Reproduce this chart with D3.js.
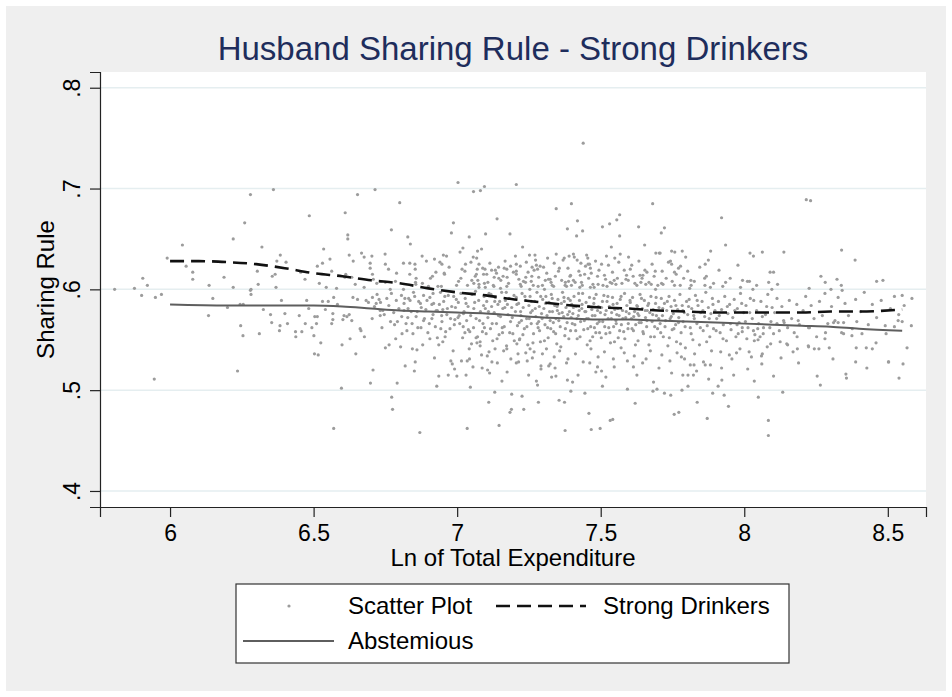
<!DOCTYPE html>
<html lang="en">
<head>
<meta charset="utf-8">
<title>Husband Sharing Rule - Strong Drinkers</title>
<script src="https://d3js.org/d3.v7.min.js"></script>
<style>
  body { margin: 0; background: #fff; }
  text { font-family: "Liberation Sans", Arial, sans-serif; }
</style>
</head>
<body>
<script>
// ticks
var xTicks = [6, 6.5, 7, 7.5, 8, 8.5];
var yTicks = [0.4, 0.5, 0.6, 0.7, 0.8];

// fitted lines
var strongX = [6.0, 6.1, 6.2, 6.3, 6.4, 6.5, 6.6, 6.7, 6.8, 6.9, 7.0, 7.1, 7.2, 7.3, 7.4, 7.5, 7.6, 7.7, 7.8, 7.9, 8.0, 8.1, 8.2, 8.3, 8.4, 8.55];
var strongY = [0.628, 0.628, 0.627, 0.625, 0.621, 0.616, 0.613, 0.609, 0.606, 0.601, 0.597, 0.594, 0.590, 0.587, 0.584, 0.582, 0.581, 0.579, 0.578, 0.577, 0.577, 0.577, 0.577, 0.578, 0.578, 0.580];
var abstX = [6.0, 6.2, 6.4, 6.5, 6.6, 6.7, 6.8, 6.9, 7.0, 7.1, 7.2, 7.3, 7.4, 7.5, 7.6, 7.7, 7.8, 7.9, 8.0, 8.1, 8.2, 8.3, 8.4, 8.55];
var abstY = [0.585, 0.584, 0.584, 0.584, 0.583, 0.581, 0.579, 0.578, 0.577, 0.576, 0.574, 0.572, 0.571, 0.570, 0.570, 0.569, 0.568, 0.567, 0.566, 0.565, 0.564, 0.563, 0.561, 0.559];

// scatter points [ln expenditure, sharing rule]
var scatterPts = [
 [5.807,.600],[5.876,.601],[5.905,.611],[5.921,.604],[5.901,.594],[5.949,.592],[5.970,.595],[5.945,.511],
 [5.990,.631],[6.043,.644],[6.056,.623],[6.079,.617],[6.079,.610],[6.188,.612],[6.136,.604],[6.220,.602],[6.220,.650],
 [6.134,.574],[6.149,.591],[6.200,.582],[6.244,.585],[6.255,.585],[6.246,.564],[6.254,.554],[6.235,.519],
 [6.280,.694],[6.360,.699],[6.260,.666],[6.485,.673],[6.610,.676],[6.653,.694],[6.714,.699],[6.619,.654],[6.619,.650],
 [6.320,.642],[6.535,.640],[6.384,.634],[6.372,.628],[6.404,.627],[6.624,.634],[6.667,.636],[6.676,.632],[6.703,.633],
 [6.557,.630],[6.531,.626],[6.513,.623],[6.638,.628],[6.697,.626],[6.697,.621],[6.304,.618],[6.366,.615],[6.356,.613],
 [6.455,.617],[6.563,.618],[6.612,.615],[6.609,.612],[6.470,.610],[6.520,.606],[6.633,.612],[6.705,.615],[6.708,.610],
 [6.720,.606],[6.307,.605],[6.369,.602],[6.282,.600],[6.544,.602],[6.580,.601],[6.645,.605],[6.676,.602],
 [6.280,.599],[6.282,.595],[6.311,.556],[6.325,.580],[6.350,.575],[6.354,.567],[6.381,.559],[6.383,.564],[6.388,.589],
 [6.400,.576],[6.409,.566],[6.437,.558],[6.438,.553],[6.450,.574],[6.459,.558],[6.471,.566],[6.476,.589],[6.483,.581],
 [6.494,.562],[6.501,.554],[6.503,.536],[6.516,.535],[6.504,.573],[6.513,.573],[6.510,.566],[6.525,.547],[6.531,.588],
 [6.541,.580],[6.551,.588],[6.567,.576],[6.567,.570],[6.563,.566],[6.570,.592],[6.583,.585],[6.597,.502],[6.599,.545],
 [6.602,.570],[6.606,.574],[6.616,.573],[6.624,.575],[6.627,.551],[6.633,.569],[6.637,.592],[6.647,.536],[6.653,.590],
 [6.662,.561],[6.665,.559],[6.677,.553],[6.683,.589],[6.691,.587],[6.704,.571],[6.698,.507],[6.707,.520],[6.718,.586],
 [6.728,.590],[6.732,.579],[6.732,.574],[6.746,.575],[6.750,.542],[6.763,.545],[6.768,.568],[6.772,.493],[6.775,.481],
 [6.782,.565],[6.791,.507],[6.786,.551],[6.803,.543],[6.808,.556],[6.815,.579],[6.819,.524],[6.825,.559],[6.828,.572],
 [6.836,.589],[6.844,.541],[6.851,.519],[6.854,.528],[6.860,.540],[6.863,.562],[6.875,.582],[6.883,.569],[6.898,.557],
 [6.905,.551],[6.912,.585],[6.916,.575],[6.929,.504],[6.931,.552],[6.936,.514],[6.943,.561],[6.950,.580],[6.960,.558],
 [6.969,.515],[6.983,.526],[6.990,.565],[6.991,.521],[6.999,.514],[7.003,.572],[7.022,.576],[7.031,.515],[7.035,.529],
 [7.039,.560],[7.046,.503],[7.050,.546],[7.066,.552],[7.080,.548],[7.095,.562],[7.106,.520],[7.111,.538],[7.113,.517],
 [7.121,.528],[7.131,.498],[7.110,.488],[7.156,.509],[7.158,.557],[7.173,.541],[7.189,.481],[7.184,.478],[7.190,.496],
 [7.206,.527],[7.208,.546],[7.217,.550],[7.226,.494],[7.232,.481],[7.239,.537],[7.254,.541],[7.262,.532],[7.276,.509],
 [7.280,.505],[7.283,.488],[7.292,.521],[7.319,.524],
 [7.003,.706],[7.057,.697],[7.081,.698],[7.095,.702],[7.206,.704],[6.800,.686],[6.771,.659],[6.987,.666],[6.980,.656],
 [7.139,.670],[7.099,.655],[7.184,.655],[7.042,.652],[6.828,.652],[6.837,.645],[7.020,.641],[7.085,.640],[7.071,.638],
 [6.749,.635],[6.878,.633],[6.952,.634],[6.963,.633],[7.010,.637],[7.056,.632],[7.068,.631],[6.921,.630],[6.893,.628],
 [6.813,.626],[6.835,.626],[6.853,.625],[6.940,.627],[6.947,.625],[7.029,.625],[7.076,.625],[6.750,.625],[6.972,.622],
 [7.017,.620],[7.070,.620],[6.761,.620],[6.854,.620],[6.926,.617],[7.097,.620],[7.144,.622],[7.164,.621],[7.173,.620],
 [7.186,.623],[7.206,.625],[6.955,.616],[6.956,.615],[7.067,.615],[7.092,.615],[7.103,.615],[7.120,.619],[7.137,.616],
 [7.206,.618],[7.206,.615],[6.789,.616],[6.835,.615],[6.857,.611],[6.914,.613],[6.907,.611],[7.005,.608],[7.051,.609],
 [7.058,.606],[7.076,.605],[7.095,.606],[7.129,.612],[7.145,.611],[7.160,.613],[7.174,.612],[6.855,.607],[6.856,.605],
 [6.785,.608],[6.750,.607],[6.998,.604],[7.076,.602],[7.098,.602],[7.128,.603],[7.151,.601],[7.173,.603],[6.900,.603],
 [6.933,.603],[6.945,.603],[6.879,.606],[6.767,.600],[6.813,.600],
 [7.439,.745],[7.398,.685],[7.345,.680],[7.681,.685],[7.419,.668],[7.384,.660],[7.437,.658],[7.416,.653],[7.566,.674],
 [7.556,.669],[7.531,.665],[7.506,.662],[7.566,.653],[7.632,.662],[7.653,.644],[7.537,.642],[7.228,.642],[7.252,.634],
 [7.271,.634],[7.345,.635],[7.373,.631],[7.390,.633],[7.405,.635],[7.408,.632],[7.451,.634],[7.455,.631],[7.520,.633],
 [7.549,.631],[7.568,.635],[7.597,.632],[7.692,.636],[7.704,.636],[7.315,.631],[7.431,.626],[7.456,.625],[7.461,.625],
 [7.503,.625],[7.220,.623],[7.261,.622],[7.276,.624],[7.289,.623],[7.268,.619],[7.280,.620],[7.356,.621],[7.464,.621],
 [7.603,.620],[7.654,.619],[7.690,.618],[7.239,.612],[7.260,.613],[7.324,.610],[7.395,.614],[7.429,.614],[7.444,.615],
 [7.489,.613],[7.590,.614],[7.637,.614],[7.647,.614],[7.231,.608],[7.238,.607],[7.307,.609],[7.318,.610],[7.377,.607],
 [7.388,.608],[7.405,.609],[7.517,.610],[7.533,.607],[7.547,.609],[7.588,.610],[7.619,.606],[7.640,.607],[7.676,.605],
 [7.220,.605],[7.265,.604],[7.282,.603],[7.331,.604],[7.336,.603],[7.376,.604],[7.398,.604],[7.433,.607],[7.427,.602],
 [7.464,.602],[7.477,.602],[7.491,.605],[7.508,.604],[7.539,.606],[7.553,.605],[7.657,.605],[7.691,.600],[7.304,.600],
 [7.253,.600],
 [7.921,.671],[7.722,.661],[7.711,.656],[7.935,.644],[7.747,.638],[7.758,.637],[7.784,.638],[7.796,.632],[7.883,.638],
 [7.707,.636],[7.743,.628],[7.747,.625],[7.778,.623],[7.875,.629],[7.864,.625],[7.757,.617],[7.862,.611],[7.814,.609],
 [7.712,.606],[7.717,.605],[7.757,.604],[7.777,.604],[7.815,.604],[7.863,.604],[7.882,.602],[7.935,.607],[7.925,.603],
 [7.810,.601],[8.020,.636],[8.032,.633],[8.063,.637],[8.138,.637],[8.090,.617],[8.102,.617],[8.011,.608],[8.018,.608],
 [8.085,.607],[8.116,.605],[8.043,.604],[7.987,.602],[8.030,.600],[8.096,.600],
 [8.216,.689],[8.231,.688],[8.339,.639],[8.386,.629],[8.267,.613],[8.323,.610],[8.282,.607],[8.338,.604],[8.461,.608],
 [8.483,.609],[8.226,.601],[8.302,.600],[8.341,.599],
 [8.584,.591],[8.582,.564],[8.567,.542],[8.553,.526],[8.539,.512],[8.550,.594],[8.557,.584],[8.536,.569],[8.550,.568],
 [8.502,.528],[8.523,.563],[8.491,.564],
 [7.324,.526],[7.344,.514],[7.329,.513],[7.355,.490],[7.374,.488],[7.384,.510],[7.396,.499],[7.402,.508],[7.445,.497],
 [7.459,.477],[7.483,.518],[7.489,.523],[7.506,.504],[7.542,.471],[7.518,.513],[7.614,.523],[7.620,.487],[7.593,.501],
 [7.684,.508],[7.696,.501],[7.682,.499],[7.722,.497],[7.744,.495],[7.756,.476],[7.772,.478],[7.783,.500],[7.786,.515],
 [7.804,.515],[7.823,.515],[7.804,.504],[7.812,.525],[7.825,.525],[7.836,.488],[7.864,.525],[7.882,.525],[7.890,.497],
 [7.909,.504],[7.922,.510],[7.930,.495],[7.945,.484],[7.948,.535],[7.973,.537],[8.025,.533],[8.049,.493],[8.035,.509],
 [8.102,.514],[8.134,.498],[8.189,.527],[8.223,.544],[8.254,.514],[8.265,.505],[8.309,.531],[8.354,.516],[8.356,.512],
 [8.388,.528],[8.427,.522],[8.446,.541],[8.503,.528],
 [8.151,.545],[8.185,.541],[8.224,.543],[8.244,.541],[8.260,.541],[8.296,.542],[8.281,.551],[8.283,.557],[8.311,.567],
 [8.346,.556],[8.375,.554],[8.390,.542],[8.410,.556],[8.425,.542],[8.459,.547],[8.327,.567],[8.346,.567],[8.392,.568],
 [8.227,.562],[8.184,.553],[8.188,.569],[8.151,.562],[8.137,.569],[8.080,.543],[8.060,.534],[8.063,.536],[8.048,.550],
 [8.055,.553],[8.037,.555],[7.975,.565],[7.993,.562],[8.009,.551],[8.032,.559],[8.067,.562],[8.102,.556],[8.125,.548],
 [8.114,.566],
 [7.035,.462],[6.570,.462],[6.870,.458],[7.376,.460],[7.467,.461],[7.533,.470],[8.084,.455],[8.084,.470],[7.146,.465],
 [7.871,.472],[7.498,.462],
 [6.705,.592],[6.712,.583],[6.721,.595],[6.733,.587],[6.741,.579],[6.755,.591],[6.762,.584],[6.771,.596],[6.779,.577],
 [6.788,.589],[6.797,.581],[6.806,.594],[6.815,.586],[6.822,.566],[6.831,.591],[6.840,.578],[6.848,.597],[6.857,.573],
 [6.866,.588],[6.874,.562],[6.883,.594],[6.891,.580],[6.738,.562],[6.792,.568],[6.846,.556],[6.880,.545],
 [6.905,.592],[6.912,.571],[6.918,.586],[6.924,.563],[6.931,.579],[6.936,.545],[6.942,.597],[6.947,.568],[6.953,.588],
 [6.958,.553],[6.964,.575],[6.969,.594],[6.975,.561],[6.981,.583],[6.986,.539],[6.992,.570],[6.997,.590],[6.921,.532],
 [6.950,.548],[6.978,.529],
 [7.004,.587],[7.009,.566],[7.013,.596],[7.019,.552],[7.024,.578],[7.028,.591],[7.033,.569],[7.038,.583],[7.042,.541],
 [7.047,.574],[7.052,.595],[7.057,.562],[7.061,.587],[7.066,.571],[7.071,.553],[7.075,.589],[7.081,.578],[7.085,.535],
 [7.090,.566],[7.094,.593],[7.098,.581],[7.015,.529],[7.055,.523],[7.080,.544],[7.027,.557],[7.064,.598],[7.088,.558],
 [7.103,.588],[7.107,.572],[7.111,.596],[7.116,.561],[7.120,.583],[7.124,.549],[7.129,.577],[7.133,.592],[7.137,.566],
 [7.142,.585],[7.146,.555],[7.151,.573],[7.155,.597],[7.159,.581],[7.164,.563],[7.168,.589],[7.172,.544],[7.177,.575],
 [7.181,.591],[7.186,.568],[7.190,.582],[7.194,.556],[7.198,.594],[7.105,.534],[7.140,.527],[7.162,.539],[7.187,.531],
 [7.118,.595],[7.148,.588],[7.175,.585],
 [7.203,.578],[7.206,.592],[7.210,.564],[7.214,.586],[7.218,.551],[7.222,.574],[7.226,.596],[7.230,.582],[7.234,.561],
 [7.238,.589],[7.242,.571],[7.246,.545],[7.250,.584],[7.254,.593],[7.258,.566],[7.262,.579],[7.266,.556],[7.270,.588],
 [7.274,.573],[7.278,.597],[7.282,.562],[7.286,.583],[7.290,.548],[7.294,.576],[7.298,.590],[7.212,.536],[7.244,.529],
 [7.268,.538],[7.292,.524],[7.224,.569],[7.256,.577],[7.284,.568],
 [7.302,.581],[7.306,.565],[7.309,.593],[7.313,.574],[7.317,.552],[7.320,.587],[7.324,.569],[7.328,.595],[7.332,.578],
 [7.336,.558],[7.340,.584],[7.344,.571],[7.347,.546],[7.351,.590],[7.355,.576],[7.359,.563],[7.363,.586],[7.367,.597],
 [7.371,.573],[7.375,.554],[7.379,.582],[7.383,.567],[7.387,.591],[7.391,.578],[7.395,.559],[7.399,.585],[7.311,.541],
 [7.338,.533],[7.357,.539],[7.381,.527],[7.326,.561],[7.349,.579],[7.373,.588],[7.397,.572],
 [7.403,.576],[7.407,.593],[7.410,.565],[7.414,.583],[7.418,.551],[7.422,.574],[7.426,.589],[7.430,.568],[7.434,.581],
 [7.437,.596],[7.441,.560],[7.445,.578],[7.449,.587],[7.453,.545],[7.457,.571],[7.461,.592],[7.465,.563],[7.469,.580],
 [7.472,.553],[7.476,.586],[7.480,.574],[7.484,.595],[7.488,.566],[7.492,.583],[7.496,.557],[7.499,.577],[7.412,.536],
 [7.439,.528],[7.466,.541],[7.491,.533],[7.425,.579],[7.451,.571],[7.478,.562],
 [7.503,.582],[7.507,.568],[7.511,.594],[7.515,.575],[7.518,.556],[7.522,.588],[7.526,.571],[7.530,.583],[7.534,.547],
 [7.538,.577],[7.541,.592],[7.545,.563],[7.549,.580],[7.553,.569],[7.557,.586],[7.561,.552],[7.564,.574],[7.568,.590],
 [7.572,.565],[7.576,.579],[7.580,.558],[7.583,.596],[7.587,.572],[7.591,.584],[7.595,.561],[7.599,.576],[7.513,.538],
 [7.544,.531],[7.571,.542],[7.593,.529],[7.528,.562],[7.556,.575],
 [7.603,.587],[7.607,.571],[7.611,.592],[7.614,.559],[7.618,.578],[7.622,.565],[7.626,.584],[7.630,.549],[7.633,.574],
 [7.637,.595],[7.641,.567],[7.645,.581],[7.649,.556],[7.652,.589],[7.656,.572],[7.660,.563],[7.664,.584],[7.668,.545],
 [7.671,.577],[7.675,.593],[7.679,.568],[7.683,.580],[7.687,.553],[7.691,.586],[7.694,.574],[7.698,.561],[7.617,.534],
 [7.646,.527],[7.673,.539],[7.629,.576],[7.662,.579],
 [7.703,.582],[7.707,.566],[7.711,.591],[7.715,.574],[7.718,.553],[7.722,.586],[7.726,.569],[7.730,.579],[7.734,.544],
 [7.738,.593],[7.742,.571],[7.745,.583],[7.749,.560],[7.753,.576],[7.757,.589],[7.761,.565],[7.764,.548],[7.768,.580],
 [7.772,.572],[7.776,.595],[7.780,.557],[7.784,.584],[7.787,.568],[7.791,.577],[7.795,.542],[7.799,.588],[7.713,.535],
 [7.741,.529],[7.766,.537],[7.792,.531],
 [7.803,.575],[7.808,.590],[7.812,.562],[7.817,.581],[7.821,.550],[7.826,.571],[7.830,.594],[7.835,.566],[7.839,.584],
 [7.844,.545],[7.848,.577],[7.853,.588],[7.857,.559],[7.862,.573],[7.866,.597],[7.871,.564],[7.875,.582],[7.880,.553],
 [7.884,.576],[7.889,.591],[7.893,.561],[7.898,.579],[7.827,.536],[7.858,.528],[7.886,.539],
 [7.904,.571],[7.910,.588],[7.916,.557],[7.921,.580],[7.927,.565],[7.932,.593],[7.938,.549],[7.943,.576],[7.949,.585],
 [7.954,.560],[7.960,.572],[7.965,.590],[7.971,.553],[7.976,.581],[7.982,.567],[7.987,.596],[7.993,.558],[7.998,.577],
 [7.918,.538],[7.957,.531],[7.985,.541],
 [8.006,.584],[8.013,.562],[8.021,.591],[8.028,.571],[8.035,.549],[8.043,.579],[8.050,.566],[8.058,.588],[8.066,.556],
 [8.074,.575],[8.082,.595],[8.089,.562],[8.097,.582],[8.017,.538],[8.061,.526],[8.092,.546],
 [8.106,.577],[8.114,.591],[8.122,.559],[8.131,.583],[8.139,.567],[8.148,.546],[8.157,.589],[8.165,.571],[8.174,.557],
 [8.183,.585],[8.192,.565],[8.128,.532],[8.170,.538],
 [8.205,.579],[8.214,.593],[8.224,.562],[8.233,.584],[8.243,.571],[8.252,.553],[8.262,.588],[8.272,.574],[8.281,.596],
 [8.291,.566],[8.304,.583],[8.316,.569],[8.327,.592],[8.339,.557],[8.351,.586],[8.363,.574],[8.376,.561],[8.388,.590],
 [8.405,.578],[8.418,.597],[8.432,.565],[8.446,.585],[8.461,.572],[8.477,.589],[8.494,.556],[8.509,.581],[8.523,.593],
 [8.538,.575],
 [7.013,.611],[7.027,.618],[7.036,.604],[7.048,.627],[7.063,.613],[7.072,.609],[7.089,.621],[7.107,.607],[7.114,.626],
 [7.126,.604],[7.133,.619],[7.152,.609],[7.167,.628],[7.179,.606],[7.196,.617],[7.203,.633],[7.215,.610],[7.223,.603],
 [7.241,.627],[7.247,.617],[7.258,.608],[7.273,.629],[7.284,.612],[7.297,.604],[7.301,.622],[7.312,.616],[7.327,.607],
 [7.338,.626],[7.342,.613],[7.353,.618],[7.364,.609],[7.369,.629],[7.381,.603],[7.386,.621],[7.393,.613],[7.411,.607],
 [7.418,.629],[7.424,.618],[7.436,.604],[7.447,.623],[7.458,.611],[7.467,.616],[7.473,.605],[7.482,.628],[7.494,.619],
 [7.513,.614],[7.522,.603],[7.527,.624],[7.541,.617],[7.558,.611],[7.563,.627],[7.574,.606],[7.582,.619],[7.596,.609],
 [7.608,.624],[7.613,.613],[7.626,.604],[7.633,.628],[7.644,.611],[7.661,.617],[7.668,.607],[7.679,.625],[7.686,.613],
 [7.699,.604],[7.714,.618],[7.728,.611],[7.736,.627],[7.749,.608],[7.763,.615],[7.771,.621],[7.789,.611],[7.803,.618],
 [7.826,.608],[7.845,.622],[7.868,.613],[7.893,.606],[7.912,.619],[7.951,.611],[7.978,.624],[7.994,.609],
 [7.007,.574],[7.021,.563],[7.031,.586],[7.044,.558],[7.058,.581],[7.069,.547],[7.078,.569],[7.092,.584],[7.101,.556],
 [7.109,.578],[7.122,.566],[7.131,.588],[7.139,.551],[7.144,.574],[7.157,.562],[7.166,.582],[7.171,.597],[7.183,.557],
 [7.192,.572],[7.199,.549],[7.208,.585],[7.216,.567],[7.221,.578],[7.229,.555],[7.236,.593],[7.243,.563],[7.251,.571],
 [7.259,.588],[7.264,.547],[7.272,.581],[7.279,.566],[7.287,.559],[7.291,.593],[7.296,.571],[7.304,.549],[7.308,.586],
 [7.315,.562],[7.322,.578],[7.331,.591],[7.335,.567],[7.343,.556],[7.348,.583],[7.354,.569],[7.361,.543],[7.366,.577],
 [7.372,.592],[7.377,.561],[7.385,.575],[7.389,.551],[7.394,.589],[7.401,.566],[7.405,.582],[7.413,.559],[7.417,.571],
 [7.423,.596],[7.428,.553],[7.435,.585],[7.443,.569],[7.448,.578],[7.455,.561],[7.459,.583],[7.463,.549],[7.471,.574],
 [7.477,.591],[7.483,.557],[7.489,.579],[7.495,.568],[7.502,.552],[7.506,.588],[7.514,.563],[7.519,.579],[7.525,.593],
 [7.532,.557],[7.537,.571],[7.543,.585],[7.548,.548],[7.554,.566],[7.559,.581],[7.566,.559],[7.571,.593],[7.577,.571],
 [7.584,.551],[7.589,.578],[7.596,.566],[7.602,.589],[7.609,.561],[7.615,.573],[7.621,.545],[7.628,.583],[7.634,.567],
 [7.642,.591],[7.647,.558],[7.655,.579],[7.661,.569],[7.667,.586],[7.674,.553],[7.681,.575],[7.688,.563],[7.693,.592],
 [7.702,.571],[7.709,.557],[7.716,.581],[7.724,.563],[7.732,.588],[7.739,.552],[7.746,.573],[7.755,.561],[7.762,.584],
 [7.771,.567],[7.778,.546],[7.786,.579],[7.794,.563],[7.806,.583],[7.815,.556],[7.824,.574],[7.836,.589],[7.847,.562],
 [7.856,.579],[7.869,.548],[7.878,.571],[7.891,.585],[7.902,.559],[7.913,.574],[7.926,.551],[7.941,.583],[7.952,.566],
 [7.967,.579],[7.979,.556],[7.991,.586],[8.004,.568],[8.019,.577],[8.033,.589],[8.047,.561],[8.063,.573],[8.078,.583],
 [8.093,.568],
 [6.807,.573],[6.818,.591],[6.829,.581],[6.843,.566],[6.852,.593],[6.861,.578],[6.872,.586],[6.886,.571],[6.895,.589],
 [6.903,.566],[6.916,.596],[6.927,.579],[6.938,.585],[6.946,.574],[6.957,.593],[6.966,.581],[6.977,.571],[6.988,.593],
 [6.994,.582],
 [7.043,.531],[7.087,.522],[7.132,.541],[7.174,.518],[7.214,.528],[7.249,.515],[7.297,.536],[7.341,.522],[7.386,.531],
 [7.421,.515],[7.462,.527],[7.503,.519],[7.547,.523],[7.582,.537],[7.626,.515],[7.658,.531],[7.703,.522],[7.747,.517],
 [7.781,.533],[7.834,.519],[7.876,.511],[7.921,.522],[7.963,.515],[8.012,.521]
];

var width = 952, height = 697;
var plot = {left: 100, right: 926, top: 72, bottom: 507};

var svg = d3.select("body").append("svg")
    .attr("width", width)
    .attr("height", height);

// outer graph region
svg.append("rect")
    .attr("x", 6).attr("y", 6)
    .attr("width", width - 12).attr("height", height - 12)
    .attr("fill", "#efefef");

svg.append("rect")
    .attr("x", plot.left).attr("y", plot.top)
    .attr("width", plot.right - plot.left).attr("height", plot.bottom - plot.top)
    .attr("fill", "#ffffff");

var x = d3.scaleLinear().domain([5.756, 8.633]).range([plot.left, plot.right]);
var y = d3.scaleLinear().domain([0.3841, 0.8156]).range([plot.bottom, plot.top]);

// gridlines
svg.append("g").selectAll("line")
    .data(yTicks)
    .enter().append("line")
    .attr("x1", plot.left).attr("x2", plot.right)
    .attr("y1", function(d) { return y(d); })
    .attr("y2", function(d) { return y(d); })
    .attr("stroke", "#e5eef0")
    .attr("stroke-width", 1.5);

// scatter
svg.append("g").selectAll("circle")
    .data(scatterPts)
    .enter().append("circle")
    .attr("cx", function(d) { return x(d[0]); })
    .attr("cy", function(d) { return y(d[1]); })
    .attr("r", 1.6)
    .attr("fill", "#9c9c9c");

var line = d3.line()
    .x(function(d) { return x(d[0]); })
    .y(function(d) { return y(d[1]); })
    .curve(d3.curveMonotoneX);

svg.append("path")
    .datum(d3.zip(abstX, abstY))
    .attr("d", line)
    .attr("fill", "none")
    .attr("stroke", "#5e5e5e")
    .attr("stroke-width", 2);

svg.append("path")
    .datum(d3.zip(strongX, strongY))
    .attr("d", line)
    .attr("fill", "none")
    .attr("stroke", "#111")
    .attr("stroke-width", 2.6)
    .attr("stroke-dasharray", "14,7");

// axes
var xAxis = svg.append("g")
    .attr("transform", "translate(0," + plot.bottom + ")")
    .call(d3.axisBottom(x).tickValues(xTicks).tickSize(10).tickPadding(8).tickFormat(d3.format("")));
var yAxis = svg.append("g")
    .attr("transform", "translate(" + plot.left + ",0)")
    .call(d3.axisLeft(y).tickValues(yTicks).tickSize(10).tickFormat(function(d) { return d3.format(".1f")(d).replace(/^0/, ""); }));

[xAxis, yAxis].forEach(function(a) {
    a.select(".domain").attr("stroke", "#222").attr("stroke-width", 1.2);
    a.selectAll(".tick line").attr("stroke", "#222").attr("stroke-width", 1.2);
    a.selectAll("text").attr("font-size", 23).attr("fill", "#000")
        .attr("font-family", "Liberation Sans, Arial, sans-serif");
});

// rotated y labels, Stata style
yAxis.selectAll(".tick text")
    .attr("x", 0).attr("dy", 0)
    .attr("text-anchor", "middle")
    .attr("transform", "translate(-20,0) rotate(-90)");

// titles
svg.append("text")
    .attr("x", (plot.left + plot.right) / 2).attr("y", 60)
    .attr("text-anchor", "middle")
    .attr("font-size", 33)
    .attr("fill", "#1e2d5c")
    .text("Husband Sharing Rule - Strong Drinkers");

svg.append("text")
    .attr("x", (plot.left + plot.right) / 2).attr("y", 566)
    .attr("text-anchor", "middle")
    .attr("font-size", 24)
    .text("Ln of Total Expenditure");

svg.append("text")
    .attr("transform", "translate(54," + (plot.top + plot.bottom) / 2 + ") rotate(-90)")
    .attr("text-anchor", "middle")
    .attr("font-size", 24)
    .text("Sharing Rule");

// legend
var lg = svg.append("g");
lg.append("rect")
    .attr("x", 236).attr("y", 584)
    .attr("width", 553).attr("height", 79)
    .attr("fill", "#fff")
    .attr("stroke", "#333")
    .attr("stroke-width", 1.2);

lg.append("circle").attr("cx", 289).attr("cy", 606).attr("r", 1.6).attr("fill", "#9c9c9c");
lg.append("text").attr("x", 348).attr("y", 614).attr("font-size", 24).text("Scatter Plot");

lg.append("line").attr("x1", 496).attr("x2", 586).attr("y1", 606).attr("y2", 606)
    .attr("stroke", "#111").attr("stroke-width", 2.6).attr("stroke-dasharray", "14,7");
lg.append("text").attr("x", 603).attr("y", 614).attr("font-size", 24).text("Strong Drinkers");

lg.append("line").attr("x1", 243).attr("x2", 334).attr("y1", 641).attr("y2", 641)
    .attr("stroke", "#5e5e5e").attr("stroke-width", 2);
lg.append("text").attr("x", 348).attr("y", 649).attr("font-size", 24).text("Abstemious");
</script>
</body>
</html>
